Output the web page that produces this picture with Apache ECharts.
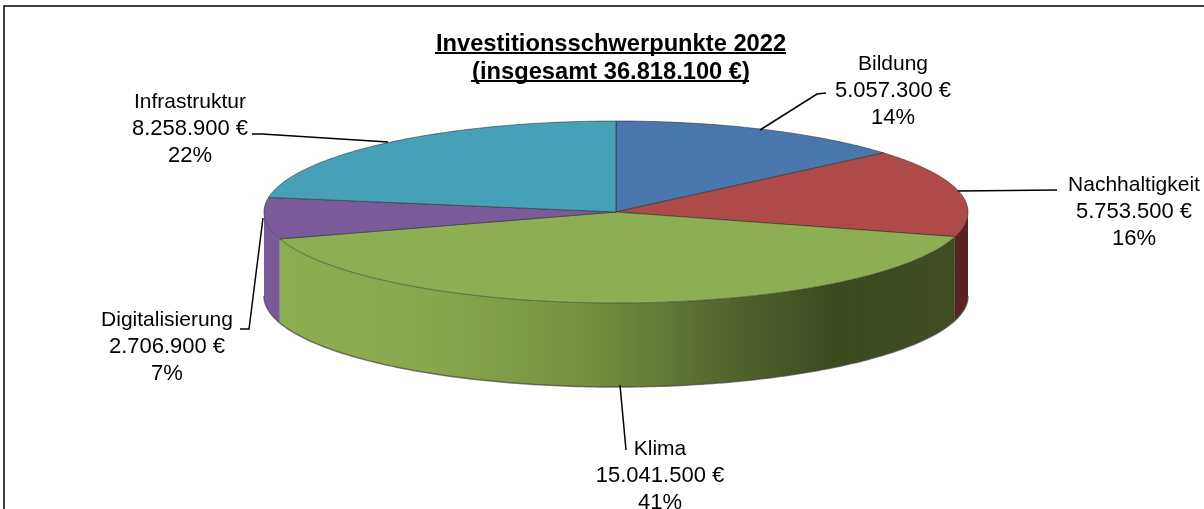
<!DOCTYPE html>
<html>
<head>
<meta charset="utf-8">
<style>
  html, body { margin: 0; padding: 0; background: #fff; }
  #chart { width: 1204px; height: 509px; }
</style>
<script src="https://cdn.jsdelivr.net/npm/echarts@6/dist/echarts.min.js"></script>
</head>
<body>
<div id="chart"></div>
<script>
var categories = ['Bildung', 'Nachhaltigkeit', 'Klima', 'Digitalisierung', 'Infrastruktur'];
var values = [5057300, 5753500, 15041500, 2706900, 8258900];
var titleLines = ['Investitionsschwerpunkte 2022', '(insgesamt 36.818.100 €)'];

var total = values.reduce(function (a, b) { return a + b; }, 0);

// pie geometry
var cx = 616, cy = 212, rx = 352, ry = 91, depth = 84;

var topColors = ['#4a76ae', '#ae4a48', '#8eae54', '#7b5a99', '#46a0b8'];
var wallColors = [
    '#2f4f78',
    '#5a2222',
    new echarts.graphic.LinearGradient(0, 0, 1, 0, [
        { offset: 0, color: '#8dae50' },
        { offset: 0.2, color: '#8aa94e' },
        { offset: 0.45, color: '#76913f' },
        { offset: 0.65, color: '#55682f' },
        { offset: 0.82, color: '#3c4a20' },
        { offset: 1, color: '#3f4c24' }
    ]),
    '#7b5a99',
    '#2f7387'
];

// label text anchor (center) and leader line for every slice
var labelPos = [[893, 91], [1134, 212], [660, 476], [167, 347], [190, 129]];
var leaders = [
    [[760, 130], [817, 94], [826, 93]],
    [[958, 191], [1057, 190]],
    [[620, 385], [626, 450]],
    [[263, 218], [249, 329], [240, 329]],
    [[388, 142], [262, 134], [252, 134]]
];

function point(frac, dy) {
    var a = frac * Math.PI * 2;
    return [cx + rx * Math.sin(a), cy - ry * Math.cos(a) + (dy || 0)];
}

function arcPoints(from, to, dy) {
    var pts = [];
    var n = Math.max(2, Math.ceil((to - from) * 400));
    for (var i = 0; i <= n; i++) {
        pts.push(point(from + (to - from) * i / n, dy));
    }
    return pts;
}

function labelText(i) {
    var euro = String(values[i]).replace(/\B(?=(\d{3})+$)/g, '.');
    return '{n|' + categories[i] + '}\n{v|' + euro + ' €}\n{v|' + Math.round(values[i] / total * 100) + '%}';
}

function renderSlice(params, api) {
    var i = params.dataIndex;
    var start = 0;
    for (var k = 0; k < i; k++) start += values[k];
    var from = start / total, to = (start + api.value(0)) / total;
    var children = [];

    // outer wall, only the front half of the pie can be seen
    var wFrom = Math.max(from, 0.25), wTo = Math.min(to, 0.75);
    if (wFrom < wTo) {
        children.push({
            type: 'polygon',
            z2: 1,
            shape: { points: arcPoints(wFrom, wTo, 0).concat(arcPoints(wFrom, wTo, depth).reverse()) },
            style: { fill: wallColors[i] }
        });
        children.push({
            type: 'polyline',
            z2: 2,
            shape: { points: arcPoints(wFrom, wTo, depth) },
            style: { fill: null, stroke: 'rgba(70,70,60,0.7)', lineWidth: 1.5 }
        });
    }

    children.push({
        type: 'polygon',
        z2: 3,
        shape: { points: [[cx, cy]].concat(arcPoints(from, to, 0)) },
        style: { fill: topColors[i], stroke: 'rgba(35,45,40,0.55)', lineWidth: 1 }
    });

    children.push({
        type: 'polyline',
        z2: 5,
        shape: { points: leaders[i] },
        style: { fill: null, stroke: '#000', lineWidth: 1.5 }
    });
    children.push({
        type: 'text',
        z2: 6,
        style: {
            x: labelPos[i][0],
            y: labelPos[i][1],
            text: labelText(i),
            fill: '#000',
            align: 'center',
            verticalAlign: 'middle',
            rich: {
                n: { fontFamily: 'Liberation Sans', fontSize: 21, lineHeight: 26.5, fill: '#000', color: '#000' },
                v: { fontFamily: 'Liberation Sans', fontSize: 22, lineHeight: 26.5, fill: '#000', color: '#000' }
            }
        }
    });
    return { type: 'group', children: children };
}

var chart = echarts.init(document.getElementById('chart'));
chart.setOption({
    animation: false,
    backgroundColor: '#fff',
    title: {
        text: titleLines.join('\n'),
        left: 606,
        top: 25,
        textAlign: 'center',
        textStyle: {
            fontFamily: 'Liberation Sans',
            fontSize: 23.7,
            fontWeight: 'bold',
            color: '#000',
            lineHeight: 28
        }
    },
    graphic: [
        // chart frame
        { type: 'polyline', shape: { points: [[4, 509], [4, 6], [1204, 6]] }, style: { fill: null, stroke: '#000', lineWidth: 1.5 } },
        // title underlines
        { type: 'line', shape: { x1: 435, y1: 53, x2: 786, y2: 53 }, style: { stroke: '#000', lineWidth: 2 } },
        { type: 'line', shape: { x1: 471, y1: 81, x2: 749, y2: 81 }, style: { stroke: '#000', lineWidth: 2 } }
    ],
    series: [{
        type: 'custom',
        coordinateSystem: 'none',
        data: values,
        renderItem: renderSlice
    }]
});
</script>
</body>
</html>
